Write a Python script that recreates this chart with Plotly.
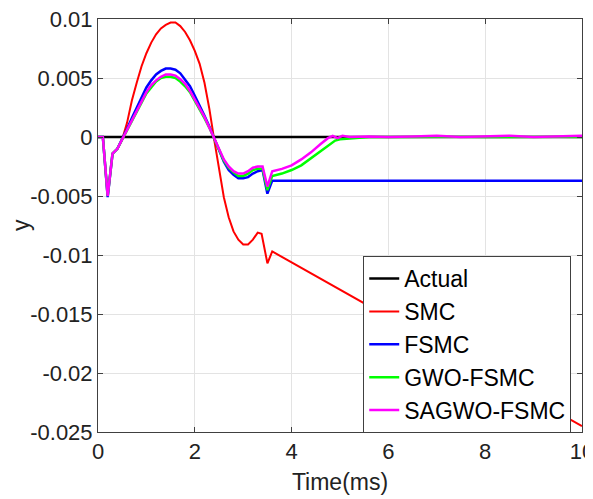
import plotly.graph_objects as go

# ---- data ----
t_act = [0, 10]
y_act = [0, 0]

t_smc = [0, 0.1, 0.2, 0.3, 0.4, 0.5, 0.6, 0.7, 0.8, 0.9, 1.0, 1.1, 1.2, 1.3, 1.4, 1.5, 1.6,
         1.7, 1.8, 1.9, 2.0, 2.1, 2.2, 2.3, 2.4, 2.5, 2.6, 2.7, 2.8, 2.9, 3.0, 3.1, 3.2,
         3.3, 3.38, 3.5, 3.6, 10]
y_smc = [0, 0, -0.0050, -0.0014, -0.0010, -0.0002, 0.0012, 0.0031, 0.0046, 0.0060, 0.0071,
         0.0080, 0.0087, 0.0092, 0.0095, 0.0097, 0.0097, 0.0094, 0.0089, 0.0082, 0.0073,
         0.0062, 0.0046, 0.0024, -0.0002, -0.0027, -0.0051, -0.0068, -0.0080, -0.0087,
         -0.0091, -0.0091, -0.0087, -0.0081, -0.0082, -0.0107, -0.0097, -0.0245]

t_main = [0, 0.1, 0.2, 0.3, 0.4, 0.5, 0.6, 0.7, 0.8, 0.9, 1.0, 1.1, 1.2, 1.3, 1.4, 1.5, 1.6,
          1.7, 1.8, 1.9, 2.0, 2.1, 2.2, 2.3, 2.4, 2.5, 2.6, 2.7, 2.8, 2.9, 3.0, 3.1, 3.2,
          3.3, 3.4, 3.5, 3.6]

y_fsmc_head = [0, 0, -0.0051, -0.0014, -0.0010, -0.0002, 0.0007, 0.0016, 0.0025, 0.0034,
               0.0042, 0.0048, 0.0053, 0.0056, 0.0058, 0.0058, 0.0057, 0.0054, 0.0049,
               0.0043, 0.0035, 0.0027, 0.0018, 0.0009, -0.0001, -0.0012, -0.0021, -0.0028,
               -0.0032, -0.0035, -0.0035, -0.0034, -0.0031, -0.0029, -0.0028, -0.0048, -0.0037]
t_fsmc = t_main + [10]
y_fsmc = y_fsmc_head + [-0.0037]

y_gwo_head = [0, 0, -0.0050, -0.0014, -0.0010, -0.0002, 0.0006, 0.0014, 0.0022, 0.0030,
              0.0037, 0.0042, 0.0047, 0.0050, 0.0051, 0.0051, 0.0050, 0.0047, 0.0043,
              0.0038, 0.0031, 0.0024, 0.0016, 0.0008, -0.0001, -0.0011, -0.0020, -0.0026,
              -0.0030, -0.0033, -0.0033, -0.0031, -0.0028, -0.0027, -0.0027, -0.0045, -0.0033]
t_gwo = t_main + [3.8, 4.0, 4.2, 4.4, 4.6, 4.8, 4.9, 5.0, 5.3, 5.6, 6.0, 6.5, 7.0, 7.5, 8.0,
                  8.5, 9.0, 9.5, 10]
y_gwo = y_gwo_head + [-0.0031, -0.0028, -0.0024, -0.0018, -0.0012, -0.0006, -0.0003,
                      -0.0002, -0.0001, 0.0, 0.0, 0.00003, 0.0, 0.00003, 0.0, 0.00003,
                      0.0, 0.00003, 0.0]

y_sag_head = [0, 0, -0.0050, -0.0014, -0.0010, -0.0002, 0.0006, 0.0015, 0.0023, 0.0031,
              0.0038, 0.0044, 0.0048, 0.0051, 0.0053, 0.0053, 0.0052, 0.0049, 0.0045,
              0.0039, 0.0032, 0.0025, 0.0017, 0.0008, -0.0001, -0.0011, -0.0019, -0.0025,
              -0.0029, -0.0031, -0.0031, -0.0029, -0.0026, -0.0025, -0.0025, -0.0042, -0.0029]
t_sag = t_main + [3.8, 4.0, 4.2, 4.4, 4.6, 4.75, 4.85, 4.95, 5.05, 5.2, 5.6, 6.0, 6.5,
                  7.0, 7.5, 8.0, 8.5, 9.0, 9.5, 10]
y_sag = y_sag_head + [-0.0027, -0.0024, -0.0019, -0.0013, -0.0006, -0.0001, 0.0001,
                      -0.0001, 0.0001, 0.0, 0.00005, 0.0, 0.00005, 0.0001, 0.0, 0.00005,
                      0.0001, 0.0, 0.00005, 0.0001]

x_ticks = [0, 2, 4, 6, 8, 10]
y_ticks = [0.01, 0.005, 0, -0.005, -0.01, -0.015, -0.02, -0.025]
y_tick_text = ["0.01", "0.005", "0", "-0.005", "-0.01", "-0.015", "-0.02", "-0.025"]

FONT = "Liberation Sans, Arial, sans-serif"
TXT = "#222222"

fig = go.Figure()
series = [
    ("Actual", t_act, y_act, "black", 2.5),
    ("SMC", t_smc, y_smc, "#ff0000", 2),
    ("FSMC", t_fsmc, y_fsmc, "#0000ff", 2.5),
    ("GWO-FSMC", t_gwo, y_gwo, "#00ff00", 2.5),
    ("SAGWO-FSMC", t_sag, y_sag, "#ff00ff", 2.5),
]
for i, (name, xs, ys, col, w) in enumerate(series):
    fig.add_trace(go.Scatter(x=xs, y=ys, mode="lines", name=name,
                             line=dict(color=col, width=w), legendgroup=f"g{i}"))

axis_common = dict(
    showgrid=True, gridcolor="#e3e3e3", gridwidth=1,
    showline=True, linecolor="#404040", linewidth=1, mirror="ticks",
    ticks="inside", ticklen=5, tickcolor="#404040",
    zeroline=False, automargin=False, ticklabeloverflow="allow",
    tickfont=dict(family=FONT, size=22, color=TXT),
)

fig.update_xaxes(range=[0, 10], tickvals=x_ticks,
                 title=dict(text="Time(ms)", font=dict(family=FONT, size=23, color=TXT),
                            standoff=10),
                 **axis_common)
fig.update_yaxes(range=[-0.025, 0.01], tickvals=y_ticks, ticktext=y_tick_text,
                 **axis_common)

fig.add_annotation(text="y", textangle=-90, xref="paper", yref="paper",
                   x=-0.16, y=0.5, xanchor="center", yanchor="middle", showarrow=False,
                   font=dict(family=FONT, size=23, color=TXT))

# the page body adds an 8px offset, margins are set to compensate
fig.update_layout(
    width=593, height=491,
    margin=dict(l=90, r=19, t=11, b=67),
    plot_bgcolor="white", paper_bgcolor="white",
    legend=dict(x=0.548, y=0.426, xanchor="left", yanchor="top",
                bgcolor="white", bordercolor="#404040", borderwidth=1,
                font=dict(family=FONT, size=23, color="black"),
                tracegroupgap=0),
)

fig.write_html("out.html")
